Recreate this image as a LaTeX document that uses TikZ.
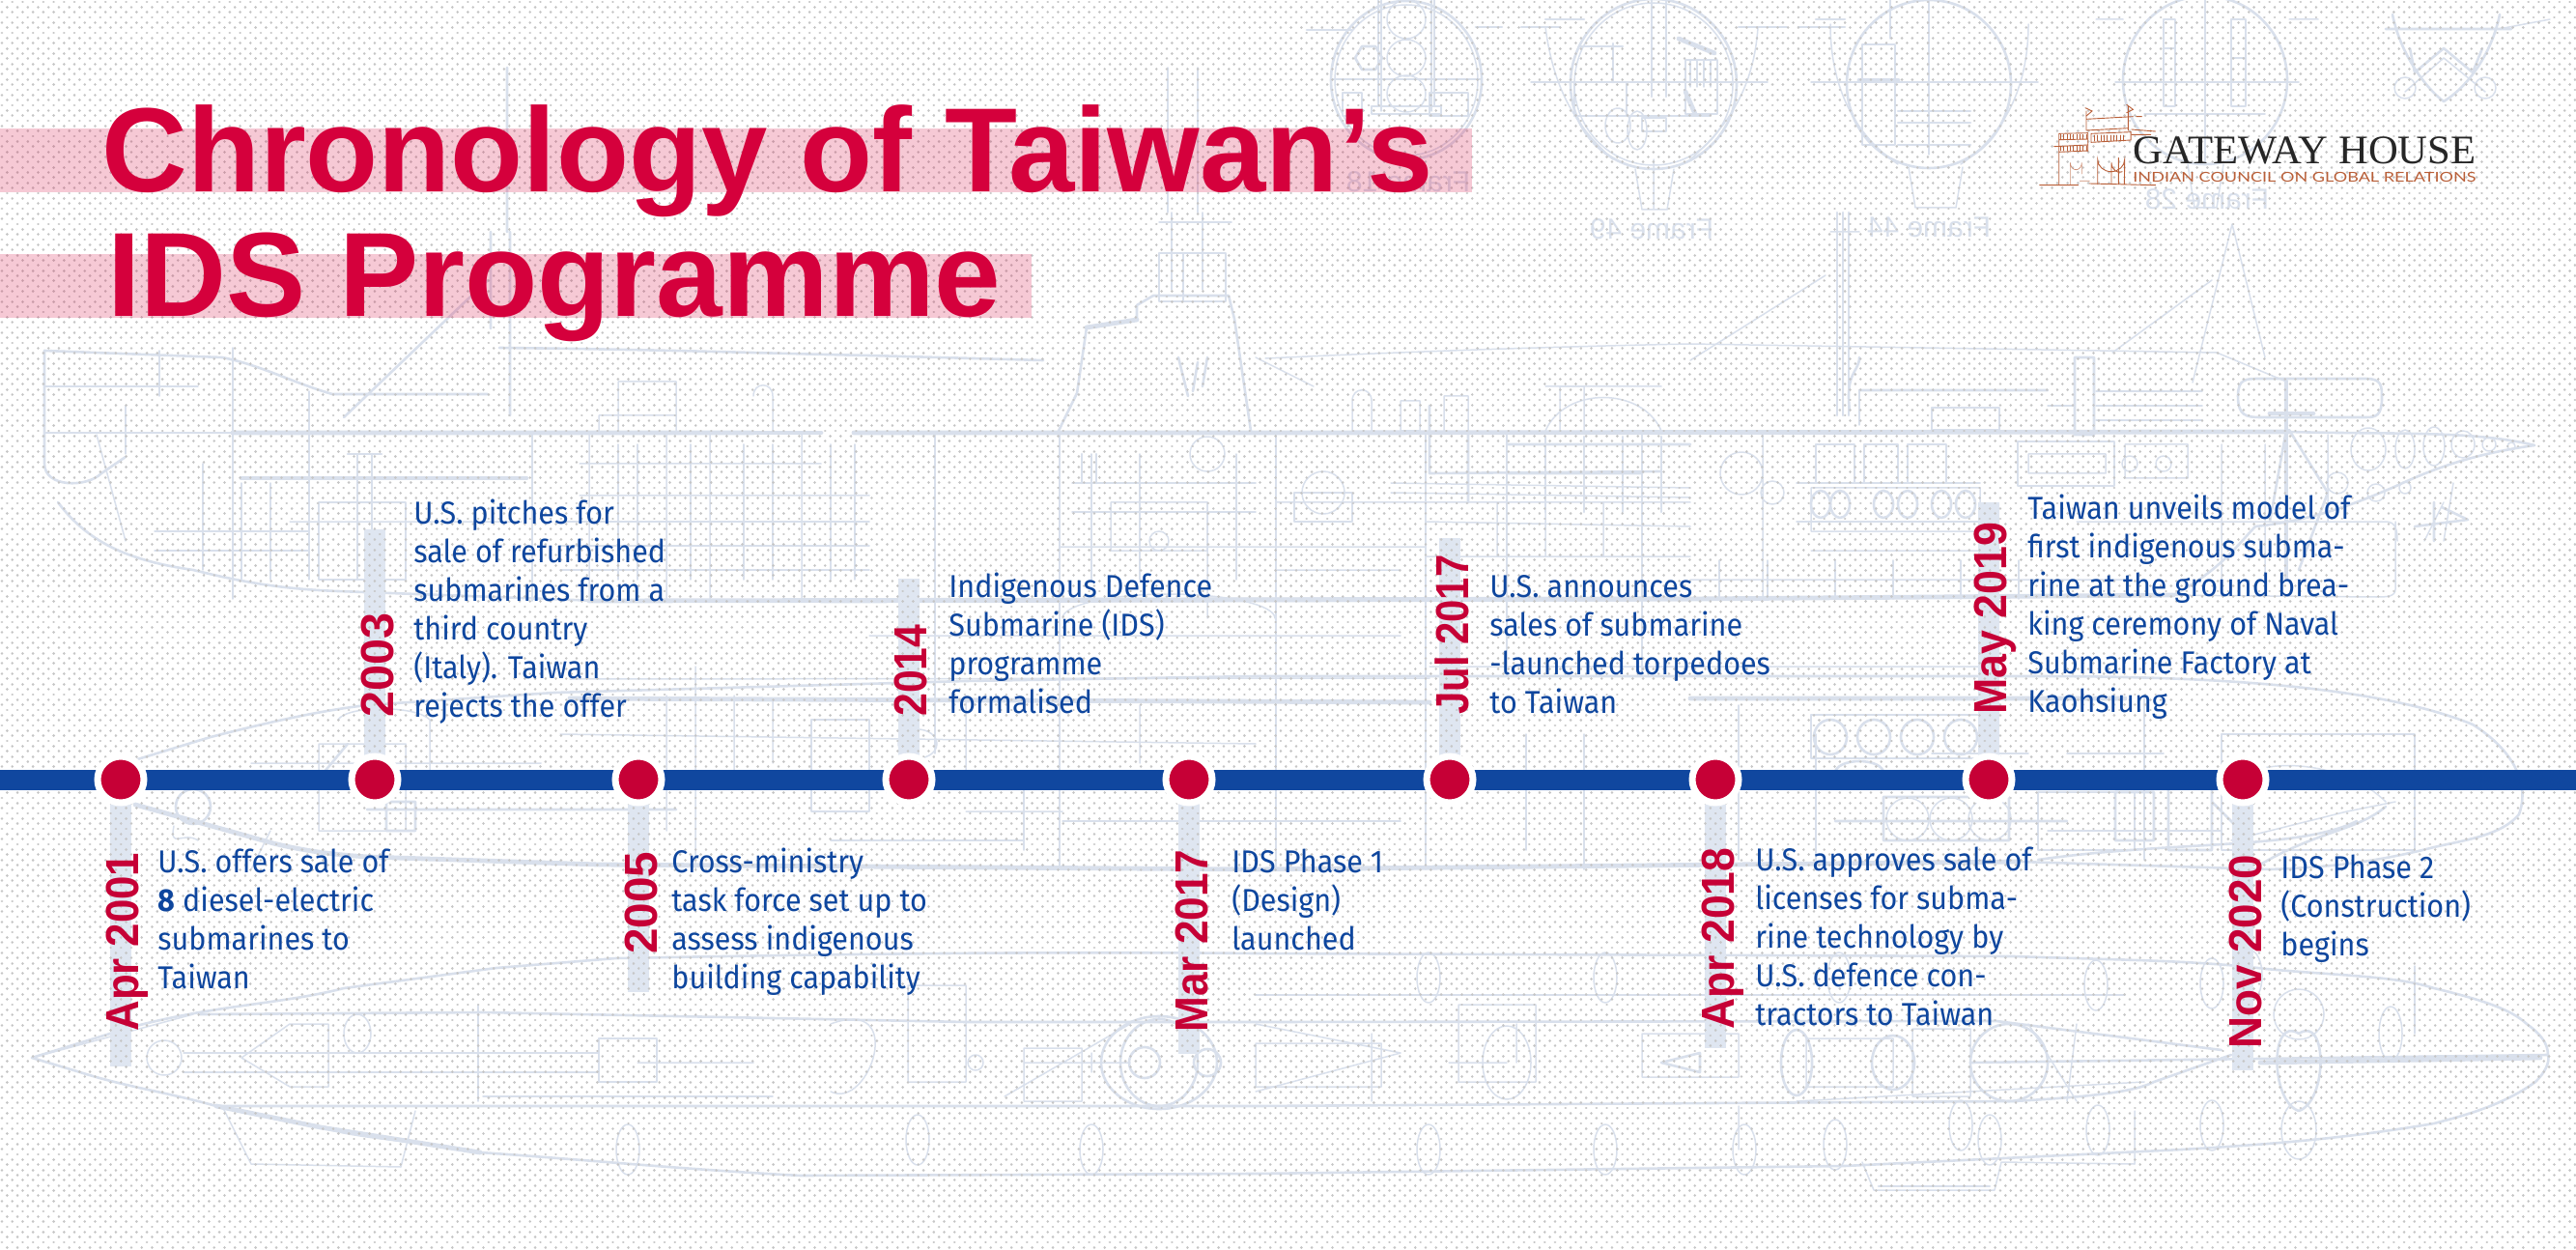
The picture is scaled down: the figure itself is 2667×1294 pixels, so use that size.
\documentclass[tikz,border=0pt]{standalone}
\usepackage{fontspec}
\usepackage{graphicx}
\newfontfamily\bodyf[FakeStretch=0.93]{Fira Sans}
\newfontfamily\headf{Liberation Sans}
\newfontfamily\logof{Liberation Serif}
\newfontfamily\logos{Lato}
\definecolor{sk}{HTML}{D9E0EC}
\definecolor{barc}{HTML}{DFE6F1}
\definecolor{dotc}{HTML}{C6C6C6}
\definecolor{crim}{HTML}{C60036}
\definecolor{titlec}{HTML}{D5003C}
\definecolor{navy}{HTML}{10479F}
\definecolor{bodyc}{HTML}{0E469E}
\definecolor{rust}{HTML}{B95F38}
\tikzset{
  skt/.style={draw=sk,line width=0.75pt,line cap=round,line join=round},
  skm/.style={draw=sk,line width=1.3pt,line cap=round,line join=round},
  skh/.style={draw=sk,line width=2.4pt,line cap=round,line join=round},
  dotrow/.style={draw=dotc,line width=1.4pt,line cap=round,dash pattern=on 0.01pt off 5.35pt},
  band/.style={fill=titlec,fill opacity=0.21,draw=none},
  titletxt/.style={anchor=base west,inner sep=0pt,text=titlec,font=\headf\bfseries\fontsize{62}{62}\selectfont},
  datetxt/.style={anchor=base west,rotate=90,inner sep=0pt,text=crim,font=\headf\bfseries\fontsize{24}{24}\selectfont},
  bodytxt/.style={anchor=base west,inner sep=0pt,align=left,text=bodyc,font=\bodyf\fontsize{16.4}{20}\selectfont},
  framelbl/.style={anchor=center,inner sep=0pt,text=sk,font=\headf\fontsize{15}{15}\selectfont},
  vbar/.style={draw=barc,line width=11pt},
  tline/.style={draw=navy,line width=10.5pt},
  evt/.style={circle,fill=crim,draw=white,line width=3.5pt,minimum size=24pt,inner sep=0pt},
  lg/.style={draw=rust,line width=0.45pt,line cap=round},
  lgt/.style={draw=rust!70,line width=0.35pt,line cap=round},
}
\newcommand{\fitw}[2]{\resizebox{#1pt}{\height}{#2}}
\begin{document}
\begin{tikzpicture}[x=0.5pt,y=-0.5pt]
\useasboundingbox (0,0) rectangle (2667,1294);
\fill[white] (0,0) rectangle (2667,1294);

% ---- frame sections, top of the sheet
\begin{scope}
\clip (0,0) rectangle (2667,300);
\draw[skm] (1456,83) ellipse [x radius=78,y radius=82];
\draw[skt] (1456,83) ellipse [x radius=74,y radius=78];
\draw[skt] (1456,20) ellipse [x radius=20,y radius=20] (1456,60) ellipse [x radius=20,y radius=19] (1456,97) ellipse [x radius=20,y radius=19];
\draw[skt] (1430,0)--(1430,115) (1482,0)--(1482,115) (1427,0)--(1427,110) (1485,0)--(1485,110);
\draw[skm] (1410,48)--(1424,48)--(1431,60)--(1424,72)--(1410,72)--(1403,60)--cycle;
\draw[skm] (1353,31)--(1400,31) (1528,28)--(1555,28);
\draw[skt] (1390,96) rectangle (1410,120) (1480,96) rectangle (1520,120) (1378,82)--(1534,82);
\draw[skt] (1420,110) rectangle (1492,118);
\draw[skm] (1712,87) ellipse [x radius=86,y radius=88];
\draw[skt] (1712,87) ellipse [x radius=82,y radius=84];
\draw[skt] (1600,28)..controls (1608,90) and (1630,130) .. (1670,165);
\draw[skt] (1820,28)..controls (1816,90) and (1790,130) .. (1750,165);
\draw[skm] (1575,28)--(1615,28) (1600,20)--(1640,20) (1800,28)--(1850,28);
\draw[skt] (1585,85)--(1830,85);
\draw[skm] (1630,85) rectangle (1684,120) (1630,120)--(1770,120);
\draw[skm] (1670,45)--(1670,85) (1635,48)--(1680,48) (1710,0)--(1710,100) (1725,0)--(1725,100);
\draw[skm] (1745,62) rectangle (1778,118);
\draw[skt] (1750,62)--(1750,90) (1757,62)--(1757,90) (1764,62)--(1764,90) (1771,62)--(1771,90);
\draw[skh] (1745,95)--(1755,118) (1738,40)--(1775,55);
\draw[skm] (1700,122) rectangle (1725,136);
\draw[skt] (1675,130) ellipse [x radius=13,y radius=18] (1695,135) ellipse [x radius=10,y radius=20];
\draw[skt] (1693,175)--(1700,217)--(1726,217)--(1733,175) (1712,165)--(1712,217);
\draw[skm] (1997,87) ellipse [x radius=85,y radius=87];
\draw[skt] (1895,25)..controls (1895,90) and (1920,140) .. (1965,170);
\draw[skt] (2100,25)..controls (2100,90) and (2075,140) .. (2030,170);
\draw[skm] (1862,28)--(1910,28) (1880,20)--(1910,20);
\draw[skt] (1875,85)--(2110,85);
\draw[skh] (1925,83)--(1965,83);
\draw[skm] (1928,46) rectangle (1962,150) (1965,115)--(2040,115) (1965,127)--(2040,127) (1965,150)--(2040,150);
\draw[skt] (1997,0)--(1997,160) (1957,0)--(1957,40);
\draw[skt] (1976,173)--(1983,215)--(2025,215)--(2032,173);
\draw[skm] (2283,83) ellipse [x radius=85,y radius=87];
\draw[skm] (2240,20) rectangle (2252,110) (2310,20) rectangle (2325,110);
\draw[skt] (2240,50)--(2252,50) (2310,60)--(2325,60) (2220,118)--(2345,118) (2283,0)--(2283,170) (2190,85)--(2380,85);
\draw[skt] (2170,20)--(2198,20) (2370,20)--(2400,20) (2265,170)--(2272,215)--(2295,215)--(2302,170);
\draw[skm] (2477,15)..controls (2485,55) and (2510,90) .. (2530,105) ..controls (2555,90) and (2580,55) .. (2588,15);
\draw[skm] (2495,50)--(2500,75)--(2530,50)--(2560,75)--(2570,50) (2470,30)--(2600,30);
\draw[skt] (2490,91) circle (11) (2573,91) circle (11) (2490,95)--(2530,60)--(2573,95);
\draw[skt] (2587,30)--(2640,20);
\node[framelbl] (f18) at (1458,188) {\reflectbox{Frame 18}};
\node[framelbl] (f49) at (1710,237) {\reflectbox{Frame 49}};
\node[framelbl] (f44) at (1997,235) {\reflectbox{Frame 44}};
\node[framelbl] (f28) at (2285,206) {\reflectbox{Frame 28}};
\end{scope}

% ---- upper side view (hull A)
\draw[skh] (241,448)--(780,448) (884,448)--(1295,448)--(2370,447);
\draw[skm] (46,363)--(230,370)..controls (270,378) and (300,395) .. (344,408)--(505,408);
\draw[skm] (46,363)--(46,480)..controls (46,505) and (90,505) .. (105,490)--(130,473);
\draw[skt] (46,400)--(205,400) (46,448)--(241,448) (165,363)--(165,410);
\draw[skm] (356,432)--(505,290) (525,70)--(525,240) (508,240)--(508,340) (528,240)--(528,430);
\draw[skm] (517,360)..controls (700,362) and (800,366) .. (900,368)--(1080,373);
\draw[skm] (60,520)..controls (90,560) and (130,580) .. (200,590) ..controls (260,605) and (300,610) .. (350,612)--(620,622);
\draw[skh] (610,622)--(1750,620)--(2250,616);
\draw[skt] (241,360)--(241,620) (551,448)--(551,622) (320,405)--(320,600) (968,448)--(968,780) (1097,448)--(1097,800) (1321,448)--(1321,800) (1476,448)--(1476,800) (1560,448)--(1560,700) (1700,448)--(1700,700);
\draw[skh] (250,495)--(545,495) (630,448)--(850,448);
\draw[skt] (600,513)--(900,513) (600,480)--(850,480) (300,540)--(540,540) (100,450)--(130,560) (610,448)--(610,620) (690,450)--(690,620) (735,450)--(735,620) (830,450)--(830,620);
\foreach \xx in {640,660,715,770,800,860,885}{\draw[skt] (\xx,460)--(\xx,600);}
\foreach \yy in {540,565,590}{\draw[skt] (580,\yy)--(900,\yy);}
\draw[skt] (160,550)--(320,550) (160,570)--(320,570) (210,480)--(210,590) (250,500)--(250,600) (280,500)--(280,600) (130,420)--(130,470);
\draw[skm] (370,470)--(370,600) (385,470)--(385,600) (360,470)--(395,470);
\draw[skt] (330,520) rectangle (420,600);
\draw[skt] (620,430) rectangle (700,448) (640,395) rectangle (700,448) (780,410)..controls (780,395) and (800,395) .. (800,410)--(800,448);
% conning tower
\draw[skm] (1095,448)--(1115,407)--(1125,339)--(1177,331)--(1177,316)--(1194,306)--(1272,306)--(1278,330)--(1295,446);
\draw[skt] (1200,262) rectangle (1269,312) (1213,220)--(1213,300) (1245,220)--(1245,300) (1225,262)--(1225,312);
\draw[skh] (1125,339)--(1177,331);
\draw[skt] (1209,70)--(1209,220) (1240,70)--(1240,220) (1200,230)--(1275,230);
\draw[skm] (1220,370)--(1230,410) (1240,375)--(1235,405) (1250,370)--(1245,400);
\draw[skt] (1300,370)--(1360,400) (1310,371)..controls (1500,362) and (1650,358) .. (1750,356)--(2295,365);
\draw[skt] (1600,446)..controls (1620,400) and (1700,400) .. (1720,446) (1600,400)--(1720,400);
\draw[skt] (1615,400) rectangle (1640,448) (1495,410) rectangle (1520,448) (1400,446)--(1400,415)..controls (1400,400) and (1420,400) .. (1420,415)--(1420,446) (1450,415) rectangle (1470,446);
\draw[skm] (1480,420)--(1480,490)--(1720,488) (1520,448)--(1520,520) (1560,460)--(1750,460) (1560,490)--(1700,490);
\draw[skt] (1321,520)--(1750,520) (1097,566)--(1476,566) (1476,576)--(1750,576) (1600,520)--(1600,576) (1660,520)--(1660,576) (1550,520)--(1550,576) (1476,540)--(1750,545);
\foreach \xx in {1600,1640,1680,1720}{\draw[skm] (\xx,452)--(\xx,530);}
\draw[skh] (850,622)--(1750,620);
\draw[skt] (900,658)--(1450,658) (1250,520)--(1250,640) (1100,640) arc (180:360:110 and 25);
\draw[skt] (1250,470) circle (18) (1150,520) rectangle (1250,570) (1370,510) circle (22) (1200,560) circle (10) (1320,590)--(1450,590);
\draw[skt] (1440,510)--(1750,515) (1440,500)--(1750,505);
\draw[skt] (1110,500)--(1300,500) (1110,530)--(1300,530) (1130,470)--(1130,600) (1180,470)--(1180,600) (1280,470)--(1280,600);
\draw[skm] (1120,470)--(1120,500) (1135,470)--(1135,500) (1340,510) rectangle (1400,540);
% right half of hull A
\draw[skm] (2370,447)..controls (2470,450) and (2560,445) .. (2624,461);
\draw[skm] (2624,461)..controls (2560,470) and (2520,485) .. (2481,503) ..controls (2420,530) and (2380,540) .. (2335,545);
\draw[skm] (2250,616)..controls (2300,590) and (2320,560) .. (2335,545);
\draw[skm] (2317,410)..controls (2317,392) and (2325,392) .. (2340,392)--(2450,392)..controls (2466,392) and (2466,400) .. (2466,412)..controls (2466,430) and (2460,432) .. (2450,432)--(2340,432)..controls (2325,432) and (2317,430) .. (2317,410);
\draw[skh] (2367,395)--(2367,600);
\draw[skm] (2350,540)--(2367,445) (2370,445)--(2410,510)--(2380,590);
\draw[skt] (2311,232)--(2270,396) (2290,290)--(2187,365) (2295,365)--(2367,395) (2311,232)--(2345,370);
\draw[skh] (2350,428)--(2395,428);
\draw[skt] (2452,465) ellipse [x radius=18,y radius=22] (2490,465) ellipse [x radius=10,y radius=20] (2520,462) ellipse [x radius=11,y radius=20] (2550,460) ellipse [x radius=12,y radius=14] (2577,460) circle (7) (2410,450)--(2410,540) (2600,462) circle (4);
\draw[skt] (2420,500) circle (11) (2460,510) circle (9) (2490,505) circle (6) (2530,520)--(2510,560) (2540,500)--(2530,560);
\draw[skm] (2520,520)--(2520,560) (2500,545)--(2555,538)--(2528,525);
\draw[skt] (2480,540)--(2480,610)..controls (2480,618) and (2470,618) .. (2460,618)--(2240,616);
% engine room
\draw[skm] (2089,457) rectangle (2189,503);
\draw[skt] (2100,470) rectangle (2180,490) (2205,480) circle (8) (2240,480) circle (8) (2200,460) rectangle (2265,495) (2300,460)--(2300,610) (2345,460)--(2345,610);
\draw[skm] (1908,220)--(1908,430) (1902,220)--(1902,430) (1914,220)--(1914,430);
\draw[skt] (1895,240)--(1925,240) (1890,285)--(1750,373);
\draw[skm] (1925,404)--(2120,404) (2148,370) rectangle (2168,450) (1925,370)..controls (1925,385) and (1910,385) .. (1915,425);
\draw[skt] (1925,440)--(1925,404) (2000,422) rectangle (2070,445) (2120,420)--(2148,420) (2170,420)--(2280,420) (2170,405)--(2280,405) (2170,435)--(2280,435);
\draw[skt] (1860,500)--(2050,500) (1860,540)--(2050,540) (1880,460) rectangle (1920,500) (1930,460) rectangle (1965,500) (1975,460) rectangle (2015,500);
\foreach \xx in {1885,1905,1950,1975,2010,2035}{\draw[skm] (\xx,522) ellipse [x radius=10,y radius=14];}
\draw[skt] (1875,505) rectangle (2050,550) (1875,570)--(2050,570) (1825,450)--(1825,620) (1750,600)--(2200,600) (1835,510) circle (12) (1803,490) circle (22);
\draw[skt] (2150,540)--(2470,540) (2470,540)..controls (2480,540) and (2482,548) .. (2482,560);
\foreach \xx in {1780,1830,1900,1960,2030,2090}{\draw[skt] (\xx,580)--(\xx,620);}

% ---- middle view (hull C)
\draw[skm] (70,808)--(218,763)..controls (300,742) and (340,735) .. (379,730)--(574,717)--(1000,705)--(1300,700)--(2100,700)..controls (2250,700) and (2450,705) .. (2560,750)..controls (2600,775) and (2620,810) .. (2608,843)..controls (2590,865) and (2550,870) .. (2520,877)..controls (2450,895) and (2400,898) .. (2350,900)--(2090,892);
\draw[skh] (140,833)--(283,873)..controls (320,882) and (350,885) .. (381,887)--(620,895)--(1300,900)--(2090,892);
\draw[skh] (590,723)--(1480,727) (1750,723)--(2200,723);
\draw[skt] (590,703)--(1480,702) (1480,690)--(2050,690) (580,760)--(1300,770) (260,790)--(560,790) (720,690)--(720,900);
\draw[skt] (840,745) rectangle (900,840) (790,800)--(1400,800) (860,870)--(1060,870) (1100,850)--(1450,850) (1097,800)--(1097,900) (1321,800)--(1321,900) (1476,800)--(1476,900) (1060,800)--(1060,880) (1640,760)--(1640,900) (1580,760)--(1580,880);
\draw[skt] (690,720)--(690,860) (760,720)--(760,800) (800,725)--(800,790) (1000,725)--(1000,800) (1180,730)--(1180,790) (950,770) ellipse [x radius=20,y radius=15] (1000,840)--(1100,840);
\draw[skt] (180,855)..controls (175,880) and (190,860) .. (205,870) (260,900)--(280,860) (330,770) rectangle (420,860) (350,745)..controls (360,730) and (430,730) .. (445,745)--(445,800);
\draw[skm] (200,835) circle (18) (380,838)--(700,838) (335,800)--(360,770) (400,830) rectangle (430,860);
\draw[skm] (1900,850)--(2140,850) (1925,800) ellipse [x radius=25,y radius=12] (1950,825) rectangle (2080,870);
\foreach \xx in {1975,2020,2060}{\draw[skt] (\xx,848) circle (22);}
\foreach \xx in {1895,1940,1985,2030}{\draw[skm] (\xx,763) ellipse [x radius=17,y radius=18];}
\draw[skt] (1875,740) rectangle (2055,785) (1800,730)--(1800,890) (1880,760)--(1880,890) (2220,720)--(2220,890) (2000,780)--(2100,780) (2140,780)--(2240,780) (2120,860)--(2300,860);
\draw[skm] (2190,820) rectangle (2230,870) (2245,810) rectangle (2290,880) (2290,830)--(2320,860);
\draw[skt] (2310,810)..controls (2345,780) and (2430,790) .. (2470,830) (2310,870)--(2430,840)--(2480,830);
\draw[skm] (2340,895)..controls (2400,860) and (2440,860) .. (2470,835) (2110,890)..controls (2250,870) and (2380,880) .. (2440,850);
\draw[skt] (2110,820) rectangle (2210,880) (2300,760) rectangle (2500,880);

% ---- lower plan view (hull B)
\draw[skm] (33,1095)--(130,1065)..controls (220,1040) and (290,1040) .. (356,1023)--(514,1002)--(638,992)..controls (900,987) and (1100,985) .. (1300,987)--(2085,990)..controls (2200,994) and (2270,994) .. (2346,1003)..controls (2420,1010) and (2480,1010) .. (2520,1023)..controls (2570,1035) and (2600,1045) .. (2616,1060)..controls (2630,1070) and (2638,1080) .. (2638,1092)..controls (2640,1100) and (2635,1110) .. (2625,1120)..controls (2590,1145) and (2550,1155) .. (2520,1163)..controls (2420,1180) and (2340,1185) .. (2259,1190)--(1910,1207)--(1300,1215)--(829,1217)..controls (700,1210) and (600,1200) .. (497,1193)..controls (430,1180) and (380,1180) .. (332,1167)--(224,1145)..controls (170,1130) and (130,1125) .. (83,1110)--cycle;
\draw[skh] (224,1145)--(332,1167) (332,1167)--(497,1193);
\draw[skt] (33,1095)--(200,1050);
\draw[skm] (207,1050)--(500,1048)--(1000,1058)--(1300,1058)--(2067,1057)--(2300,1087);
\draw[skm] (224,1145)--(1300,1145)--(2085,1140)..controls (2170,1135) and (2210,1130) .. (2230,1120)--(2310,1092);
\draw[skt] (230,1145)--(260,1205)--(415,1208)--(430,1150) (1928,1203)--(1940,1232)--(2065,1232)--(2072,1203) (2072,1203)--(2210,1205)--(2210,1150);
\draw[skm] (1945,1228)--(2060,1228);
\draw[skt] (1800,1145)--(1800,1190) (370,1070) ellipse [x radius=14,y radius=20];
\foreach \xx/\yy in {1479/1190,1662/1190,1806/1190,1900/1185,2060/1180,2172/1170,2290/1165,1479/1012,1662/1012,1904/1012,2170/1020,2290/1018,2030/1165,2330/1010,650/1190,950/1180,1130/1190}{\draw[skt] (\xx,\yy) ellipse [x radius=12,y radius=26];}
\draw[skt] (2500,1000)..controls (2500,1020) and (2500,1060) .. (2500,1070);
\draw[skm] (2040,1100)--(2638,1092);
\draw[skt] (1300,1030) -- (2200,1030);
% internal machinery along the centre line
\draw[skt] (170,1095) circle (18) (250,1095) -- (300,1060) -- (340,1060) -- (340,1125) -- (300,1125) -- (250,1095);
\draw[skt] (190,1090)--(620,1090) (190,1110)--(620,1110) (620,1075) rectangle (680,1120) (495,1040)--(495,1140) (500,1135)--(800,1135);
\draw[skt] (660,1100)--(780,1100) (860,1060)..controls (940,1030) and (900,1150) .. (860,1130) (940,1020) rectangle (1000,1120) (1010,1100) circle (8) (1060,1085) rectangle (1120,1140);
\draw[skm] (1200,1100) ellipse [x radius=60,y radius=48] (1200,1100) ellipse [x radius=40,y radius=45];
\draw[skm] (1185,1100) circle (16) (1250,1100) circle (14);
\draw[skt] (1060,1100)--(1170,1100) (1130,1090)--(1130,1110) (1040,1135)--(1170,1060);
\draw[skt] (1300,1080) rectangle (1430,1125) (1420,1070)--(1420,1140) (1570,1060)--(1570,1100) (1510,1040) rectangle (1590,1120) (1560,1100) ellipse [x radius=25,y radius=38];
\draw[skt] (1500,1100)--(1560,1100) (1300,1060)--(1450,1090)--(1300,1130);
\draw[skm] (1720,1100)--(1760,1090)--(1760,1110)--cycle (1860,1100) ellipse [x radius=16,y radius=34] (1960,1100) ellipse [x radius=22,y radius=28] (2080,1100) circle (40);
\draw[skt] (1700,1070) rectangle (1800,1115) (1870,1075) rectangle (1960,1125) (1980,1065) rectangle (2040,1135) (1860,1140)--(2220,1120) (2100,1060)--(2150,1140) (2150,1060)--(2140,1140);
\draw[skh] (2340,1100)--(2630,1095);
\draw[skm] (2380,1070)..controls (2410,1050) and (2410,1140) .. (2380,1150) ..controls (2350,1140) and (2350,1050) .. (2380,1070);
\draw[skt] (2380,1050) circle (26) (2380,1170) ellipse [x radius=18,y radius=30] (2475,1070) ellipse [x radius=12,y radius=28];

% ---- pale date bars
\coordinate (b1) at (125,1104);
\coordinate (b2) at (388,548);
\coordinate (b3) at (661,1027);
\coordinate (b4) at (941,599);
\coordinate (b5) at (1231,1091);
\coordinate (b6) at (1501,557);
\coordinate (b7) at (1776,1085);
\coordinate (b8) at (2059,520);
\coordinate (b9) at (2322,1108);
\coordinate (o1) at (125,807);
\coordinate (o2) at (388,807);
\coordinate (o3) at (661,807);
\coordinate (o4) at (941,807);
\coordinate (o5) at (1231,807);
\coordinate (o6) at (1501,807);
\coordinate (o7) at (1776,807);
\coordinate (o8) at (2059,807);
\coordinate (o9) at (2322,807);
\foreach \i in {1,...,9}{\draw[vbar] (o\i)--(b\i);}

% ---- dot screen
\foreach \r in {0,...,241}{
  \pgfmathsetmacro\yy{\r*5.35+2}
  \pgfmathsetmacro\xo{mod(\r,2)*5.35+2}
  \draw[dotrow] (\xo,\yy)--(2667,\yy);
}

% ---- title bands
\fill[band] (0,133) rectangle (1524,199);
\fill[band] (0,263) rectangle (1068,329);
\node[titletxt] (t1) at (105,199) {\fitw{689}{Chronology of Taiwan’s}};
\node[titletxt] (t2) at (111,328) {\fitw{462.5}{IDS Programme}};

% ---- timeline
\coordinate (tlL) at (0,807);
\coordinate (tlR) at (2667,807);
\draw[tline] (tlL)--(tlR);
\foreach \i in {1,...,9}{\node[evt] (e\i) at (o\i) {};}

% ---- dates
\node[datetxt] (d1) at (143,1068) {\fitw{92.5}{Apr 2001}};
\node[datetxt] (d2) at (407,743) {\fitw{54}{2003}};
\node[datetxt] (d3) at (680,988) {\fitw{53}{2005}};
\node[datetxt] (d4) at (959,742) {\fitw{47.5}{2014}};
\node[datetxt] (d5) at (1250,1069) {\fitw{94.5}{Mar 2017}};
\node[datetxt] (d6) at (1520,740) {\fitw{82.5}{Jul 2017}};
\node[datetxt] (d7) at (1795,1066) {\fitw{94}{Apr 2018}};
\node[datetxt] (d8) at (2077,740) {\fitw{99.5}{May 2019}};
\node[datetxt] (d9) at (2341,1086) {\fitw{100.5}{Nov 2020}};

% ---- event text (anchor = baseline of last line)
\node[bodytxt] (x1) at (163,1023) {U.S. offers sale of\\\textbf{8} diesel-electric\\submarines to\\Taiwan};
\node[bodytxt] (x2) at (428,742) {U.S. pitches for\\sale of refurbished\\submarines from a\\third country\\(Italy). Taiwan\\rejects the offer};
\node[bodytxt] (x3) at (695,1023) {Cross-ministry\\task force set up to\\assess indigenous\\building capability};
\node[bodytxt] (x4) at (982,738) {Indigenous Defence\\Submarine (IDS)\\programme\\formalised};
\node[bodytxt] (x5) at (1275,983) {IDS Phase 1\\(Design)\\launched};
\node[bodytxt] (x6) at (1542,738) {U.S. announces\\sales of submarine\\-launched torpedoes\\to Taiwan};
\node[bodytxt] (x7) at (1817,1061) {U.S. approves sale of\\licenses for subma-\\rine technology by\\U.S. defence con-\\tractors to Taiwan};
\node[bodytxt] (x8) at (2099,737) {Taiwan unveils model of\\first indigenous subma-\\rine at the ground brea-\\king ceremony of Naval\\Submarine Factory at\\Kaohsiung};
\node[bodytxt] (x9) at (2361,989) {IDS Phase 2\\(Construction)\\begins};

% ---- logo
\begin{scope}[shift={(2080,100)},x=0.1667pt,y=-0.1667pt]
\draw[lg] (95,275)--(215,275) (250,270)--(455,275) (155,115)--(155,275) (245,115)--(245,170) (155,115)--(245,113) (155,134)--(245,132) (140,155)--(245,150) (155,172)--(245,168);
\foreach \xx in {160,170,...,240}{\draw[lg] (\xx,118)--(\xx,132) (\xx,154)--(\xx,168);}
\draw[lgt] (190,272)--(190,205) arc (180:0:18 and 22)--(226,240) (220,262)--(250,262);
\draw[lg] (255,115)--(378,110)--(378,135)--(255,142)--cycle;
\foreach \xx in {265,275,...,355}{\draw[lg] (\xx,120)--(\xx,138);}
\draw[lg] (275,272)--(275,195) arc (180:0:42 and 38)--(358,272) (318,270)--(318,205) arc (180:70:25 and 30);
\draw[lg] (240,105)--(240,45) (370,105)--(370,30) (240,70)--(385,62) (395,62)--(412,62) (240,105)--(370,98) (380,102)--(455,108) (380,118)--(440,118);
\draw[lg] (340,272)--(340,190) (237,35)--(258,45)--(240,60) (365,25)--(385,40)--(365,50);
\end{scope}
\node[anchor=base west,inner sep=0pt,text=black!85,font=\logof\fontsize{21}{21}\selectfont] (lg1) at (2208,170) {\fitw{177.5}{GATEWAY HOUSE}};
\node[anchor=base west,inner sep=0pt,text=rust,font=\logos\fontsize{7}{7}\selectfont] (lg2) at (2208,189) {\fitw{177.5}{INDIAN COUNCIL ON GLOBAL RELATIONS}};
\end{tikzpicture}
\end{document}
